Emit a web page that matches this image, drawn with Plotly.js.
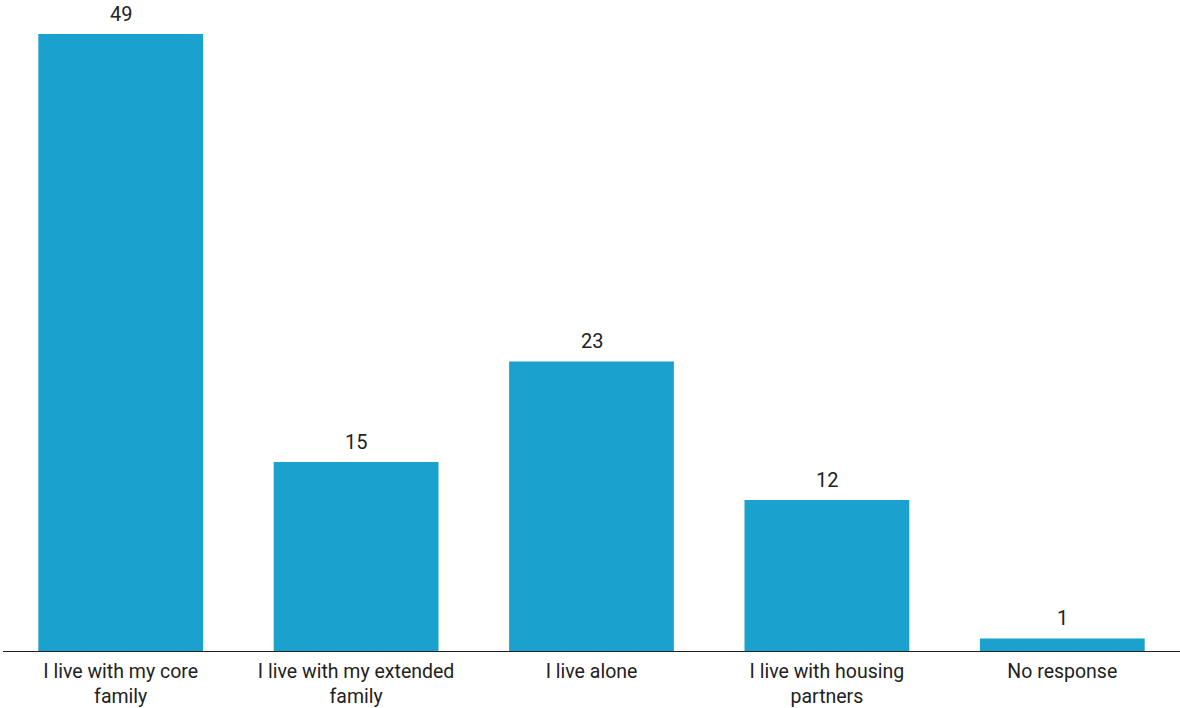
<!DOCTYPE html>
<html><head><meta charset="utf-8">
<script src="https://cdn.plot.ly/plotly-3.0.1.min.js"></script>
<style>html,body{margin:0;padding:0;background:#fff}#c{width:1180px;height:708px}</style>
</head><body><div id="c"></div>
<script>
const categories = ["I live with my core<br>family", "I live with my extended<br>family", "I live alone", "I live with housing<br>partners", "No response"];
const values = [49, 15, 23, 12, 1];
const barColor = "#1aa1cd";

Plotly.newPlot("c", [{
  type: "bar",
  x: categories,
  y: values,
  marker: {color: barColor},
  hoverinfo: "none"
}], {
  width: 1180, height: 708,
  margin: {l: 3, r: 0, t: 0, b: 57},
  bargap: 0.3,
  paper_bgcolor: "#fff", plot_bgcolor: "#fff",
  showlegend: false,
  font: {family: "Roboto", size: 20, color: "#222"},
  annotations: categories.map((c, i) => ({
    x: c, y: values[i], xref: "x", yref: "y", text: String(values[i]),
    showarrow: false, yanchor: "bottom", yshift: 6,
    font: {family: "Roboto", size: 20, color: "#222"}
  })),
  xaxis: {showline: true, linecolor: "#222", linewidth: 1.3, ticks: "outside", ticklen: 2, tickcolor: "rgba(0,0,0,0)", showgrid: false,
          tickfont: {family: "Roboto", size: 19.5, color: "#222"}},
  yaxis: {range: [0, 51.7], visible: false, showgrid: false, zeroline: false}
}, {displayModeBar: false, staticPlot: true});
</script></body></html>
